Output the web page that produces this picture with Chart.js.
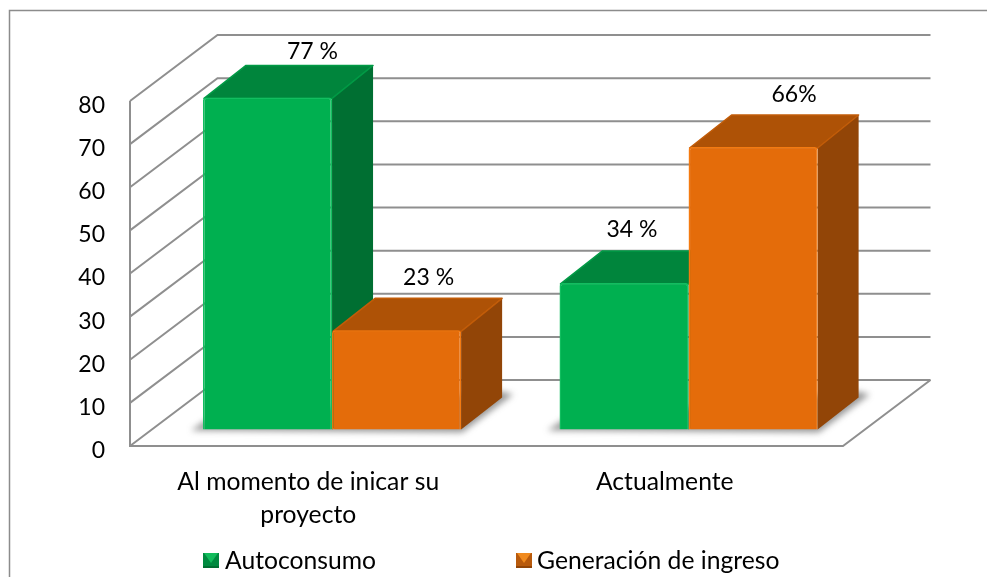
<!DOCTYPE html>
<html>
<head>
<meta charset="utf-8">
<style>html,body{margin:0;padding:0;background:#fff;overflow:hidden}canvas{display:block}</style>
<script src="https://cdn.jsdelivr.net/npm/chart.js@4"></script>
</head>
<body>
<canvas id="c" width="987" height="577"></canvas>
<script>
const categories = [["Al momento de inicar su", "proyecto"], "Actualmente"];
const seriesNames = ["Autoconsumo", "Generación de ingreso"];
const autoconsumo = [77, 34];
const generacion = [23, 65.5];
const autoconsumoLabels = ["77 %", "34 %"];
const generacionLabels = ["23 %", "66%"];

const FONT = "Lato, 'Open Sans', sans-serif";
const FS = 24.7;
const FS_NUM = 23;
const LINE = "#8c8c8c";
const wall = {dx: 87.5, dy: -66, shift: -4.5};
const barShift = {x: 23.8, y: -21};
const depth = {x: 41, y: -32};
const skins = [
  {front: "#00B050", edge: "#12BE60", top: "#00853C", topEdge: "#009A45", side: "#006F32", swatch: "#008A40", tri: "#12BC5C"},
  {front: "#E46C0A", edge: "#F47A10", top: "#AE5206", topEdge: "#C25C08", side: "#924507", swatch: "#B85A0C", tri: "#F08A1E"}
];
const labelOffsets = [[[45, -46], [32, -53]], [[8, -53], [41, -52]]];
const legendPos = [{box: 203, text: 225}, {box: 516, text: 537}];

const scene = {
  id: "scene",
  beforeDraw(chart) {
    const {ctx, scales: {x, y}} = chart;
    ctx.save();
    ctx.strokeStyle = LINE;
    ctx.lineWidth = 1.5;
    ctx.strokeRect(9.5, 10.5, 1100, 1100);
    const L = x.left, R = x.right;
    ctx.lineWidth = 2;
    ctx.strokeStyle = "#8f8f8f";
    y.ticks.forEach(t => {
      const py = y.getPixelForValue(t.value) + wall.shift;
      ctx.beginPath();
      ctx.moveTo(L, py);
      ctx.lineTo(L + wall.dx, py + wall.dy);
      ctx.lineTo(R + wall.dx, py + wall.dy);
      ctx.stroke();
    });
    const y0 = y.getPixelForValue(0) + wall.shift;
    const yT = y.getPixelForValue(80) + wall.shift;
    ctx.beginPath();
    ctx.moveTo(L, yT);
    ctx.lineTo(L, y0);
    ctx.lineTo(R, y0);
    ctx.lineTo(R + wall.dx, y0 + wall.dy);
    ctx.stroke();
    ctx.restore();
  },
  beforeDatasetsDraw(chart) {
    const {ctx} = chart;
    ctx.save();
    ctx.translate(barShift.x, barShift.y);
    const m0 = chart.getDatasetMeta(0).data, m1 = chart.getDatasetMeta(1).data;
    // floor shadows
    m0.forEach((b0, i) => {
      const b1 = m1[i];
      const l = b0.x - b0.width / 2, r = b1.x + b1.width / 2, base = b0.base;
      ctx.save();
      ctx.filter = "blur(3px)";
      ctx.fillStyle = "rgba(70,70,70,0.55)";
      ctx.beginPath();
      ctx.moveTo(l - 12, base + 1);
      ctx.lineTo(r + 1, base + 3);
      ctx.lineTo(r + depth.x + 11, base + depth.y - 3);
      ctx.lineTo(r + depth.x, base + depth.y - 6);
      ctx.lineTo(l + 4, base - 10);
      ctx.closePath();
      ctx.fill();
      ctx.restore();
    });
    // depth faces, left to right
    [0, 1].forEach(ds => {
      const skin = skins[ds];
      chart.getDatasetMeta(ds).data.forEach(b => {
        const l = b.x - b.width / 2, r = b.x + b.width / 2, t = b.y, base = b.base;
        ctx.fillStyle = skin.side;
        ctx.beginPath();
        ctx.moveTo(r, t);
        ctx.lineTo(r + depth.x, t + depth.y);
        ctx.lineTo(r + depth.x, base + depth.y);
        ctx.lineTo(r, base);
        ctx.closePath();
        ctx.fill();
        ctx.fillStyle = skin.top;
        ctx.strokeStyle = skin.topEdge;
        ctx.lineWidth = 1.5;
        ctx.lineJoin = "round";
        ctx.beginPath();
        ctx.moveTo(l + 1, t + 1);
        ctx.lineTo(l + depth.x + 2, t + depth.y);
        ctx.lineTo(r + depth.x, t + depth.y);
        ctx.lineTo(r, t + 1);
        ctx.closePath();
        ctx.fill();
        ctx.stroke();
      });
    });
  },
  afterDatasetsDraw(chart) {
    const {ctx} = chart;
    ctx.restore();
    ctx.save();
    ctx.fillStyle = "#000";
    ctx.font = FS_NUM + "px " + FONT;
    ctx.textAlign = "center";
    ctx.textBaseline = "middle";
    const texts = [autoconsumoLabels, generacionLabels];
    [0, 1].forEach(ds => {
      chart.getDatasetMeta(ds).data.forEach((b, i) => {
        const off = labelOffsets[i][ds];
        ctx.fillText(texts[ds][i], b.x + barShift.x + off[0], b.y + barShift.y + off[1]);
      });
    });
    // legend
    ctx.font = FS + "px " + FONT;
    ctx.textAlign = "left";
    seriesNames.forEach((name, i) => {
      const p = legendPos[i], skin = skins[i], bx = p.box, by = 553, s = 16;
      ctx.fillStyle = skin.swatch;
      ctx.fillRect(bx, by, s, s - 1);
      ctx.fillStyle = skin.side;
      ctx.fillRect(bx, by + s - 3, s, 2);
      ctx.fillStyle = skin.tri;
      ctx.beginPath();
      ctx.moveTo(bx + 1, by);
      ctx.lineTo(bx + s - 1, by);
      ctx.lineTo(bx + s / 2, by + 10);
      ctx.closePath();
      ctx.fill();
      ctx.fillStyle = "#000";
      ctx.fillText(name, p.text, 561);
    });
    ctx.restore();
  }
};

new Chart(document.getElementById("c"), {
  type: "bar",
  data: {
    labels: categories,
    datasets: [autoconsumo, generacion].map((vals, i) => ({
      label: seriesNames[i],
      data: vals,
      backgroundColor: skins[i].front,
      borderColor: skins[i].edge,
      borderWidth: 1.5,
      borderSkipped: "bottom",
      borderRadius: {topLeft: 3, topRight: 3},
      barPercentage: 1,
      categoryPercentage: 0.724,
      clip: false
    }))
  },
  options: {
    responsive: false,
    animation: false,
    layout: {padding: {left: 0, top: 105.5, right: 144, bottom: 0}},
    plugins: {legend: {display: false}, tooltip: {enabled: false}},
    scales: {
      x: {
        grid: {display: false},
        border: {display: false},
        afterFit: s => { s.height = 126.5; },
        ticks: {
          color: "#000",
          padding: 7,
          maxRotation: 0,
          autoSkip: false,
          font: {family: FONT, size: FS, lineHeight: "33px"}
        }
      },
      y: {
        min: 0,
        max: 80,
        grid: {display: false},
        border: {display: false},
        afterFit: s => { s.width = 130; },
        ticks: {
          color: "#000",
          stepSize: 10,
          padding: 17,
          font: {family: FONT, size: FS_NUM}
        }
      }
    }
  },
  plugins: [scene]
});
</script>
</body>
</html>
